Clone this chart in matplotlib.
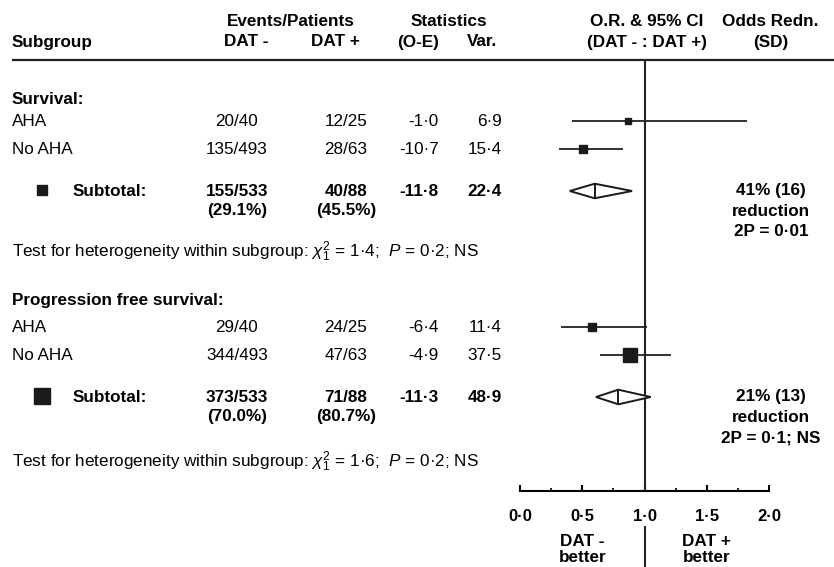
import numpy as np
import matplotlib.pyplot as plt

plt.rcParams['font.family'] = ['Liberation Sans', 'DejaVu Sans']
plt.rcParams['mathtext.fontset'] = 'custom'
plt.rcParams['mathtext.rm'] = 'Liberation Sans'
plt.rcParams['mathtext.it'] = 'Liberation Sans:italic'
plt.rcParams['mathtext.bf'] = 'Liberation Sans:bold'

# datos
grupos = ['Survival:', 'Progression free survival:']
subgrupos = ['AHA', 'No AHA']
eventos_neg = [['20/40', '135/493'], ['29/40', '344/493']]
eventos_pos = [['12/25', '28/63'], ['24/25', '47/63']]
oe = [[-1.0, -10.7], [-6.4, -4.9]]
var = [[6.9, 15.4], [11.4, 37.5]]
or_est = [[0.87, 0.51], [0.58, 0.88]]
ci_lo = [[0.42, 0.31], [0.33, 0.64]]
ci_hi = [[1.82, 0.83], [1.02, 1.21]]

sub_neg = ['155/533', '373/533']
sub_neg_pct = ['(29.1%)', '(70.0%)']
sub_pos = ['40/88', '71/88']
sub_pos_pct = ['(45.5%)', '(80.7%)']
sub_oe = [-11.8, -11.3]
sub_var = [22.4, 48.9]
sub_or = [0.60, 0.79]
sub_lo = [0.40, 0.61]
sub_hi = [0.90, 1.05]
reduccion = [['41% (16)', 'reduction', '2P = 0·01'],
             ['21% (13)', 'reduction', '2P = 0·1; NS']]
chi2 = ['1·4', '1·6']
p_het = ['0·2', '0·2']

ticks = [0.0, 0.5, 1.0, 1.5, 2.0]


def fmt(v):
    return ('%.1f' % v).replace('.', '·')


# posiciones verticales (pixeles desde arriba)
y_titulo = [100, 300]
y_filas = [[121, 149], [327, 355]]
y_sub = [191, 397]
y_het = [252, 462]
y_eje = 491
y_cab = 60

W, H = 834, 567
fig = plt.figure(figsize=(W / 100, H / 100), dpi=100)
ax = fig.add_axes([0, 0, 1, 1])
ax.set_xlim(0, W)
ax.set_ylim(H, 0)
ax.axis('off')

x0, x2 = 520, 769
axf = fig.add_axes([x0 / W, 0, (x2 - x0) / W, 1])
axf.set_xlim(0, 2)
axf.set_ylim(H, 0)
axf.patch.set_visible(False)
for s in ['top', 'left', 'right']:
    axf.spines[s].set_visible(False)
axf.spines['bottom'].set_position(('data', y_eje))
axf.spines['bottom'].set_linewidth(1.5)
axf.set_yticks([])
axf.set_xticks(ticks)
axf.set_xticklabels([fmt(t) for t in ticks], fontweight='bold', fontsize=12)
axf.set_xticks(np.arange(0.25, 2, 0.5), minor=True)
axf.tick_params(axis='x', which='major', direction='in', length=4, width=1.5, pad=13)
axf.tick_params(axis='x', which='minor', direction='in', length=2, width=1.2)

fs = 12.3
# cabecera
ax.text(12, 42, 'Subgroup', fontsize=fs, fontweight='bold', va='center')
ax.text(291, 21, 'Events/Patients', fontsize=fs, fontweight='bold', ha='center', va='center')
ax.text(246, 42, 'DAT -', fontsize=fs, fontweight='bold', ha='center', va='center')
ax.text(335, 42, 'DAT +', fontsize=fs, fontweight='bold', ha='center', va='center')
ax.text(449, 21, 'Statistics', fontsize=fs, fontweight='bold', ha='center', va='center')
ax.text(439, 42, '(O-E)', fontsize=fs, fontweight='bold', ha='right', va='center')
ax.text(482, 42, 'Var.', fontsize=fs, fontweight='bold', ha='center', va='center')
ax.text(647, 21, 'O.R. & 95% CI', fontsize=fs, fontweight='bold', ha='center', va='center')
ax.text(647, 42, '(DAT - : DAT +)', fontsize=fs, fontweight='bold', ha='center', va='center')
ax.text(770, 21, 'Odds Redn.', fontsize=fs, fontweight='bold', ha='center', va='center')
ax.text(771, 42, '(SD)', fontsize=fs, fontweight='bold', ha='center', va='center')
ax.hlines(y_cab, 12, W, color='#222222', lw=1.6)

# linea de no efecto
axf.vlines(1.0, y_cab, y_eje, color='#222222', lw=1.5)
axf.vlines(1.0, 526, H, color='#222222', lw=1.5)

for g in range(2):
    ax.text(12, y_titulo[g], grupos[g], fontsize=fs, fontweight='bold', va='center')
    for i in range(2):
        y = y_filas[g][i]
        ax.text(12, y, subgrupos[i], fontsize=fs, va='center')
        ax.text(237, y, eventos_neg[g][i], fontsize=fs, ha='center', va='center')
        ax.text(346, y, eventos_pos[g][i], fontsize=fs, ha='center', va='center')
        ax.text(439, y, fmt(oe[g][i]), fontsize=fs, ha='right', va='center')
        ax.text(502, y, fmt(var[g][i]), fontsize=fs, ha='right', va='center')
        axf.hlines(y, ci_lo[g][i], ci_hi[g][i], color='#222222', lw=1.3, clip_on=False)
        axf.plot(or_est[g][i], y, marker='s', ms=1.55 * np.sqrt(var[g][i]),
                 color='#1a1a1a', clip_on=False)

    y = y_sub[g]
    ax.plot(42, y - 1, marker='s', ms=1.65 * np.sqrt(sub_var[g]), color='#1a1a1a')
    ax.text(73, y, 'Subtotal:', fontsize=fs, fontweight='bold', va='center')
    ax.text(237, y, sub_neg[g], fontsize=fs, fontweight='bold', ha='center', va='center')
    ax.text(237, y + 20, sub_neg_pct[g], fontsize=fs, fontweight='bold', ha='center', va='center')
    ax.text(346, y, sub_pos[g], fontsize=fs, fontweight='bold', ha='center', va='center')
    ax.text(346, y + 20, sub_pos_pct[g], fontsize=fs, fontweight='bold', ha='center', va='center')
    ax.text(439, y, fmt(sub_oe[g]), fontsize=fs, fontweight='bold', ha='right', va='center')
    ax.text(502, y, fmt(sub_var[g]), fontsize=fs, fontweight='bold', ha='right', va='center')

    # diamante
    dy = 7.3
    axf.fill([sub_lo[g], sub_or[g], sub_hi[g], sub_or[g]], [y, y - dy, y, y + dy],
             facecolor='white', edgecolor='#1a1a1a', lw=1.4, clip_on=False, zorder=3)
    axf.vlines(sub_or[g], y - dy, y + dy, color='#1a1a1a', lw=1.4, zorder=4)

    for k, linea in enumerate(reduccion[g]):
        ax.text(771, y + 20.3 * k, linea, fontsize=fs, fontweight='bold', ha='center', va='center')

    ax.text(12, y_het[g],
            'Test for heterogeneity within subgroup: $\\chi^2_1$ = ' + chi2[g]
            + ';  $P$ = ' + p_het[g] + '; NS',
            fontsize=fs, va='center')

# etiquetas de abajo
axf.text(0.5, 542, 'DAT -', fontsize=fs, fontweight='bold', ha='center', va='center')
axf.text(0.5, 558, 'better', fontsize=fs, fontweight='bold', ha='center', va='center')
axf.text(1.5, 542, 'DAT +', fontsize=fs, fontweight='bold', ha='center', va='center')
axf.text(1.5, 558, 'better', fontsize=fs, fontweight='bold', ha='center', va='center')

fig.savefig('out.png', dpi=100)
